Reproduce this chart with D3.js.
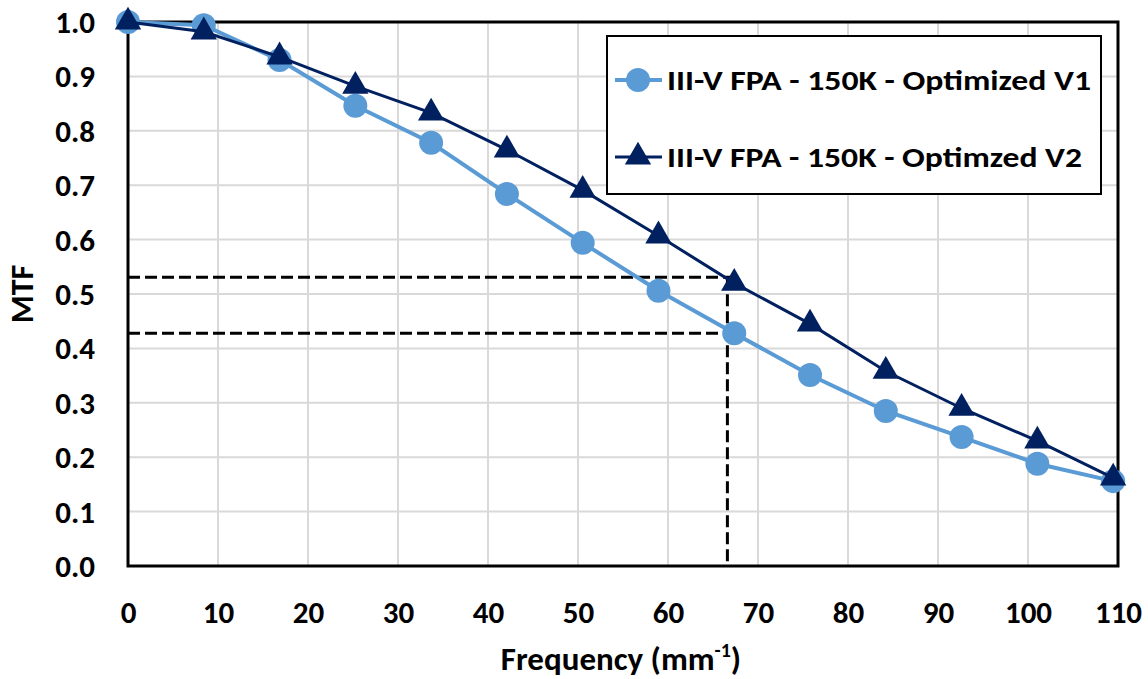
<!DOCTYPE html>
<html>
<head>
<meta charset="utf-8">
<script src="https://cdn.jsdelivr.net/npm/d3@7"></script>
<style>
  body { margin: 0; background: #fff; }
  text { font-family: Carlito, "Open Sans", "Liberation Sans", sans-serif; font-weight: bold; fill: #000; }
</style>
</head>
<body>
<svg width="1148" height="679"></svg>
<script>
// frequency samples (mm^-1) and MTF values for both designs
var freq = [0, 8.42, 16.84, 25.26, 33.68, 42.1, 50.52, 58.94, 67.36, 75.78, 84.2, 92.62, 101.04, 109.46];
var mtfV1 = [1.0, 0.994, 0.930, 0.846, 0.778, 0.684, 0.594, 0.506, 0.428, 0.351, 0.285, 0.237, 0.188, 0.156];
var mtfV2 = [1.0, 0.982, 0.936, 0.882, 0.833, 0.765, 0.691, 0.607, 0.520, 0.445, 0.358, 0.290, 0.230, 0.162];
var seriesNames = ["III-V FPA - 150K - Optimized V1", "III-V FPA - 150K - Optimzed V2"];
var xTicks = [0, 10, 20, 30, 40, 50, 60, 70, 80, 90, 100, 110];
var yTicks = [0, 0.1, 0.2, 0.3, 0.4, 0.5, 0.6, 0.7, 0.8, 0.9, 1.0];
// reference guide: frequency and the two MTF levels
var guideFreq = 66.6;
var guideLevels = [0.531, 0.428];

var svg = d3.select("svg");
var margin = {left: 128, top: 22, right: 30, bottom: 113};
var width = 1148, height = 679;

var x = d3.scaleLinear().domain([0, 110]).range([margin.left, width - margin.right]);
var y = d3.scaleLinear().domain([0, 1]).range([height - margin.bottom, margin.top]);

// gridlines
svg.append("g").selectAll("line")
    .data(xTicks.slice(1, -1))
    .enter().append("line")
    .attr("x1", d => x(d)).attr("x2", d => x(d))
    .attr("y1", y(0)).attr("y2", y(1))
    .attr("stroke", "#d9d9d9").attr("stroke-width", 2);
svg.append("g").selectAll("line")
    .data(yTicks.slice(1, -1))
    .enter().append("line")
    .attr("x1", x(0)).attr("x2", x(110))
    .attr("y1", d => y(d)).attr("y2", d => y(d))
    .attr("stroke", "#d9d9d9").attr("stroke-width", 2);

// plot frame
svg.append("rect")
    .attr("x", x(0)).attr("y", y(1))
    .attr("width", x(110) - x(0)).attr("height", y(0) - y(1))
    .attr("fill", "none").attr("stroke", "#000").attr("stroke-width", 3);

// tick labels
var xAxis = svg.append("g")
    .attr("transform", "translate(0," + y(0) + ")")
    .call(d3.axisBottom(x).tickValues(xTicks).tickSize(0).tickFormat(d3.format("d")));
var yAxis = svg.append("g")
    .attr("transform", "translate(" + x(0) + ",0)")
    .call(d3.axisLeft(y).tickValues(yTicks).tickSize(0).tickPadding(33).tickFormat(d3.format(".1f")));
[xAxis, yAxis].forEach(function(a) {
  a.select(".domain").remove();
  a.attr("font-size", null).attr("font-family", null);
  a.selectAll("text").style("font-size", "31px");
});
yAxis.selectAll("text").attr("dy", "0.34em");
xAxis.selectAll("text").attr("dy", "0.34em").attr("y", 46);

// axis titles
var xt = svg.append("text")
    .attr("x", 621).attr("y", 670)
    .attr("text-anchor", "middle").style("font-size", "33px");
xt.append("tspan").text("Frequency (mm");
xt.append("tspan").text("-1").attr("dy", -13).style("font-size", "20px");
xt.append("tspan").text(")").attr("dy", 13);

svg.append("text")
    .attr("transform", "translate(33,294) rotate(-90)")
    .attr("text-anchor", "middle").style("font-size", "32px")
    .text("MTF");

// dashed guides
var dash = svg.append("g").attr("stroke", "#000").attr("stroke-width", 3)
    .attr("stroke-dasharray", "12,5").attr("fill", "none");
guideLevels.forEach(function(v) {
  dash.append("line")
      .attr("x1", x(0)).attr("x2", x(guideFreq) + (v === guideLevels[0] ? 6 : 0))
      .attr("y1", y(v)).attr("y2", y(v));
});
dash.append("line")
    .attr("x1", x(guideFreq)).attr("x2", x(guideFreq))
    .attr("y1", y(guideLevels[0])).attr("y2", y(0));

var line = d3.line().x((d, i) => x(freq[i])).y(d => y(d));

// series V1 (circles)
svg.append("path").datum(mtfV1)
    .attr("d", line).attr("fill", "none")
    .attr("stroke", "#5b9bd5").attr("stroke-width", 4);
svg.append("g").selectAll("circle")
    .data(mtfV1).enter().append("circle")
    .attr("cx", (d, i) => x(freq[i])).attr("cy", d => y(d))
    .attr("r", 12).attr("fill", "#5b9bd5");

// series V2 (triangles)
var tri = d3.symbol().type(d3.symbolTriangle).size(300);
svg.append("path").datum(mtfV2)
    .attr("d", line).attr("fill", "none")
    .attr("stroke", "#002060").attr("stroke-width", 3);
svg.append("g").selectAll("path")
    .data(mtfV2).enter().append("path")
    .attr("d", tri)
    .attr("transform", (d, i) => "translate(" + x(freq[i]) + "," + y(d) + ")")
    .attr("fill", "#002060");

// legend
var lg = svg.append("g");
lg.append("rect")
    .attr("x", 607).attr("y", 36).attr("width", 494).attr("height", 158)
    .attr("fill", "#fff").attr("stroke", "#000").attr("stroke-width", 2);
var rows = [
  {name: seriesNames[0], color: "#5b9bd5", w: 4, sym: "circle", cy: 80, len: 424},
  {name: seriesNames[1], color: "#002060", w: 3, sym: "tri", cy: 157, len: 415}
];
rows.forEach(function(r) {
  lg.append("line").attr("x1", 615).attr("x2", 662)
      .attr("y1", r.cy).attr("y2", r.cy)
      .attr("stroke", r.color).attr("stroke-width", r.w);
  if (r.sym === "circle") {
    lg.append("circle").attr("cx", 638).attr("cy", r.cy).attr("r", 12).attr("fill", r.color);
  } else {
    lg.append("path").attr("d", tri).attr("transform", "translate(638," + r.cy + ")").attr("fill", r.color);
  }
  lg.append("text").attr("x", 667).attr("y", r.cy).attr("dy", "0.34em")
      .style("font-size", "29px")
      .attr("textLength", r.len).attr("lengthAdjust", "spacingAndGlyphs")
      .text(r.name);
});
</script>
</body>
</html>
